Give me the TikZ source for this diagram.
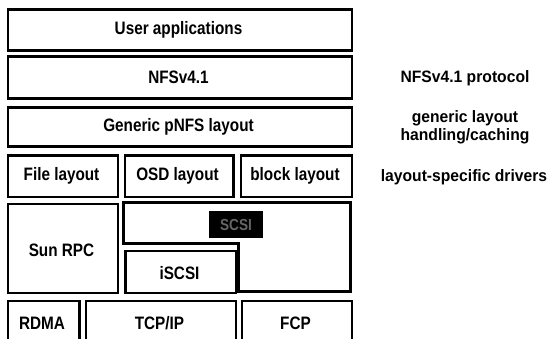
\documentclass[tikz,border=0pt]{standalone}
\usepackage{fontspec}
\setmainfont{Liberation Sans}[FakeStretch=0.85]
\newfontfamily\sidefont{Liberation Sans}[FakeStretch=0.95]
\begin{document}
\begin{tikzpicture}[x=1pt,y=-1pt,
  box/.style={draw=black,line width=2.8pt,fill=white,inner sep=0pt,anchor=north west},
  lbl/.style={font=\bfseries\fontsize{18}{20}\selectfont,inner sep=0pt},
  side/.style={font=\sidefont\bfseries\fontsize{16.5}{18}\selectfont,inner sep=0pt,align=center}]
\useasboundingbox (0,0) rectangle (551,339);
\clip (0,0) rectangle (551,339);
% rows
\node[box,minimum width=344pt,minimum height=41pt] (user) at (6.5,8.5) {};
\node[lbl] (userT) at (178.5,30) {User applications};
\node[box,minimum width=344pt,minimum height=42pt] (nfs) at (6.5,55.5) {};
\node[lbl] (nfsT) at (178.5,77) {NFSv4.1};
\node[box,minimum width=344pt,minimum height=39pt] (gen) at (6.5,106.5) {};
\node[lbl] (genT) at (178.5,127) {Generic pNFS layout};
\node[box,minimum width=110pt,minimum height=41pt] (file) at (6.5,154.5) {};
\node[lbl] (fileT) at (61.5,175.5) {File layout};
\node[box,minimum width=108.5pt,minimum height=41pt] (osd) at (123.5,154.5) {};
\node[lbl] (osdT) at (177.5,175.5) {OSD layout};
\node[box,minimum width=111pt,minimum height=41pt] (blk) at (239.5,154.5) {};
\node[lbl] (blkT) at (295,175.5) {block layout};
\node[box,minimum width=110pt,minimum height=89pt] (sun) at (6.5,202.5) {};
\node[lbl] (sunT) at (61.5,250) {Sun RPC};
% SCSI L-shape
\draw[draw=black,line width=2.8pt,line join=miter]
  (123.5,202.5) -- (350.5,202.5) -- (350.5,291.5) -- (238.5,291.5)
  -- (238.5,243.5) -- (123.5,243.5) -- cycle;
\node[fill=black,minimum width=54pt,minimum height=27pt,inner sep=0pt,
  text=black!60,font=\bfseries\fontsize{16}{18}\selectfont] (scsi) at (236,224.5) {SCSI};
\node[box,minimum width=110.5pt,minimum height=42pt] (iscsi) at (124,249.5) {};
\node[lbl] (iscsiT) at (179.5,273.5) {iSCSI};
% bottom row
\node[box,minimum width=71.5pt,minimum height=60pt] (rdma) at (6.5,299.5) {};
\node[lbl] (rdmaT) at (42,323.5) {RDMA};
\node[box,minimum width=150pt,minimum height=60pt] (tcp) at (84.5,299.5) {};
\node[lbl] (tcpT) at (159.5,323.5) {TCP/IP};
\node[box,minimum width=110pt,minimum height=60pt] (fcp) at (240.5,299.5) {};
\node[lbl] (fcpT) at (295.5,323.5) {FCP};
% side labels
\node[side] (s1) at (465,78) {NFSv4.1 protocol};
\node[side] (s2) at (465,127) {generic layout\\handling/caching};
\node[side] (s3) at (464,177) {layout-specific drivers};
\end{tikzpicture}
\end{document}
